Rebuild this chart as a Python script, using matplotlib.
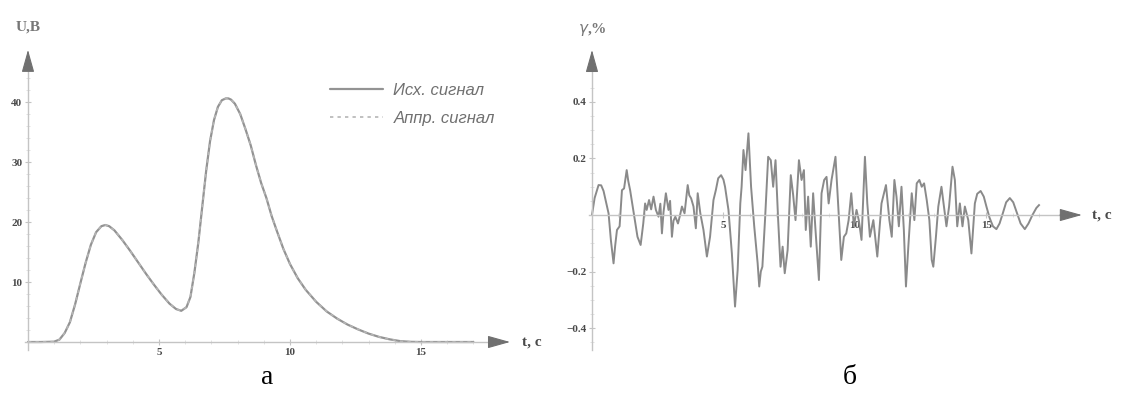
import numpy as np
import matplotlib.pyplot as plt

# ---- data ----
# panel a: source signal U(t), volts
t_sig = [0, 0.5, 1.0, 1.2, 1.4, 1.6, 1.8, 2.0, 2.2, 2.4, 2.6, 2.8, 2.95, 3.1, 3.3,
         3.6, 3.9, 4.2, 4.5, 4.8, 5.1, 5.4, 5.65, 5.85, 6.05, 6.2, 6.35, 6.5, 6.65,
         6.8, 6.95, 7.1, 7.25, 7.4, 7.55, 7.65, 7.75, 7.9, 8.1, 8.3, 8.5, 8.7, 8.9,
         9.1, 9.3, 9.5, 9.75, 10.0, 10.3, 10.6, 11.0, 11.4, 11.8, 12.2, 12.6, 13.0,
         13.4, 13.8, 14.2, 14.6, 15.0, 17.0]
u_src = [0, 0, 0.05, 0.4, 1.5, 3.3, 6.3, 9.8, 13.2, 16.2, 18.3, 19.3, 19.5, 19.3, 18.6,
         17.0, 15.2, 13.3, 11.4, 9.6, 7.9, 6.4, 5.5, 5.2, 5.8, 7.5, 11.5, 16.5, 22.5,
         28.5, 33.5, 37.0, 39.2, 40.3, 40.6, 40.6, 40.4, 39.7, 38.0, 35.5, 32.8, 29.5, 26.5,
         24.0, 21.0, 18.5, 15.5, 13.0, 10.6, 8.7, 6.7, 5.1, 3.9, 2.9, 2.1, 1.4,
         0.85, 0.45, 0.15, 0.03, 0, 0]
u_apr = u_src  # approximation coincides with the source on the plot

# panel б: relative error gamma(t), %
t_err = [0, 0.1, 0.25, 0.35, 0.44, 0.55, 0.63, 0.72, 0.82, 0.88, 0.95, 1.05, 1.14, 1.22,
         1.32, 1.38, 1.45, 1.57, 1.65, 1.73, 1.85, 1.95, 2.02, 2.08, 2.17, 2.25, 2.34,
         2.43, 2.53, 2.6, 2.66, 2.72, 2.81, 2.91, 2.97, 3.04, 3.1, 3.17, 3.27, 3.35,
         3.42, 3.52, 3.64, 3.7, 3.77, 3.86, 3.95, 4.02, 4.12, 4.24, 4.37, 4.49, 4.62,
         4.71, 4.8, 4.91, 5.0, 5.06, 5.19, 5.32, 5.44, 5.54, 5.64, 5.69, 5.76, 5.84,
         5.95, 6.05, 6.17, 6.3, 6.36, 6.42, 6.48, 6.58, 6.7, 6.8, 6.89, 6.98, 7.08,
         7.17, 7.25, 7.33, 7.44, 7.56, 7.65, 7.74, 7.87, 7.97, 8.06, 8.13, 8.22, 8.32,
         8.41, 8.5, 8.63, 8.73, 8.83, 8.92, 9.0, 9.11, 9.26, 9.36, 9.48, 9.58, 9.67,
         9.76, 9.86, 9.96, 10.06, 10.15, 10.25, 10.38, 10.47, 10.57, 10.7, 10.85, 11.01,
         11.18, 11.31, 11.4, 11.5, 11.58, 11.67, 11.77, 11.86, 11.94, 12.03, 12.16,
         12.26, 12.35, 12.45, 12.54, 12.63, 12.73, 12.83, 12.92, 12.98, 13.08, 13.17,
         13.29, 13.4, 13.48, 13.58, 13.71, 13.8, 13.89, 13.99, 14.09, 14.18, 14.31,
         14.43, 14.56, 14.65, 14.78, 14.9, 15.0, 15.12, 15.25, 15.38, 15.5, 15.62,
         15.75, 15.89, 16.02, 16.15, 16.3, 16.46, 16.6, 16.75, 16.9, 17.0]
g_err = [0, 0.06, 0.106, 0.105, 0.085, 0.04, 0.006, -0.09, -0.171, -0.11, -0.053, -0.04,
         0.088, 0.094, 0.159, 0.12, 0.088, 0.018, -0.03, -0.077, -0.106, -0.03, 0.041,
         0.018, 0.053, 0.02, 0.065, 0.018, -0.006, 0.04, -0.065, 0.01, 0.077, 0.018,
         0.05, -0.077, -0.02, -0.006, -0.03, 0.0, 0.03, 0.006, 0.106, 0.07, 0.059, 0.03,
         -0.047, 0.077, 0.006, -0.053, -0.147, -0.077, 0.053, 0.088, 0.13, 0.141, 0.125,
         0.1, 0.018, -0.136, -0.324, -0.194, 0.041, 0.1, 0.23, 0.159, 0.289, 0.1, -0.04,
         -0.171, -0.253, -0.2, -0.183, -0.018, 0.206, 0.194, 0.1, 0.194, -0.018, -0.183,
         -0.112, -0.206, -0.124, 0.141, 0.071, -0.018, 0.194, 0.124, 0.159, -0.053,
         0.065, -0.112, 0.077, -0.053, -0.23, 0.077, 0.124, 0.135, 0.041, 0.124, 0.206,
         0.041, -0.159, -0.077, -0.065, -0.018, 0.077, -0.04, 0.018, -0.02, -0.088,
         0.206, 0.041, -0.077, -0.018, -0.147, 0.041, 0.106, -0.018, -0.077, 0.124,
         0.065, -0.04, 0.1, -0.053, -0.253, -0.112, 0.077, -0.018, 0.112, 0.124, 0.1,
         0.112, 0.053, -0.018, -0.159, -0.183, -0.077, 0.03, 0.1, 0.018, -0.04, 0.03,
         0.171, 0.124, -0.04, 0.041, -0.04, 0.03, -0.018, -0.136, 0.041, 0.075, 0.085,
         0.065, 0.03, -0.01, -0.04, -0.05, -0.03, 0.005, 0.045, 0.06, 0.045, 0.01,
         -0.03, -0.05, -0.03, 0.0, 0.025, 0.035]

# tick labels
a_xticks = [5, 10, 15]
a_yticks = [10, 20, 30, 40]
b_xticks = [5, 10, 15]
b_yticks = [-0.4, -0.2, 0.2, 0.4]
b_ylabels = ['\u22120.4', '\u22120.2', '0.2', '0.4']
legend_labels = ['Исх. сигнал', 'Аппр. сигнал']

# ---- figure ----
W, H = 1123, 395
fig = plt.figure(figsize=(W / 100, H / 100), dpi=100)

AX_COL = '#c4c4c4'
ARR_COL = '#707070'
TXT_COL = '#4a4a4a'
tick_font = dict(family='Liberation Serif', weight='bold', size=8, color=TXT_COL)


def px_axes(x0, x1, y0, y1):
    # axes placed by pixel box (top-left origin)
    return fig.add_axes([x0 / W, 1 - y1 / H, (x1 - x0) / W, (y1 - y0) / H])


def setup_axes(ax, xb, yb):
    for s in ['top', 'right']:
        ax.spines[s].set_visible(False)
    ax.spines['left'].set_position(('data', 0))
    ax.spines['bottom'].set_position(('data', 0))
    ax.spines['left'].set_bounds(*yb)
    ax.spines['bottom'].set_bounds(*xb)
    for s in ['left', 'bottom']:
        ax.spines[s].set_color(AX_COL)
        ax.spines[s].set_linewidth(1.0)
    ax.tick_params(which='major', direction='inout', length=5, width=0.8,
                   color=AX_COL, pad=1.5)
    ax.tick_params(which='minor', direction='inout', length=3, width=0.6,
                   color='#dddddd')
    ax.patch.set_alpha(0)


def arrow(ax, base, tip):
    ax.annotate('', xy=tip, xytext=base,
                arrowprops=dict(arrowstyle='-|>,head_length=1.0,head_width=0.28',
                                mutation_scale=14, fc=ARR_COL, ec=ARR_COL, lw=0.8,
                                shrinkA=0, shrinkB=0),
                annotation_clip=False)


# panel a
ax1 = px_axes(20, 520, 20, 360)
ax1.set_xlim(-0.305, 18.78)
ax1.set_ylim(-3, 53.67)
setup_axes(ax1, (-0.11, 17.6), (-1.3, 45.7))
l1, = ax1.plot(t_sig, u_src, color='#939393', lw=1.6, solid_capstyle='round')
l2, = ax1.plot(t_sig, u_apr, color='#b5b5b5', lw=1.2, ls=(0, (2, 2.5)))
ax1.set_xticks(a_xticks)
ax1.set_xticklabels([str(v) for v in a_xticks], **tick_font)
ax1.set_yticks(a_yticks)
ax1.set_yticklabels([str(v) for v in a_yticks], **tick_font)
ax1.set_xticks(np.arange(1, 18, 1), minor=True)
ax1.set_yticks(np.arange(2, 46, 2), minor=True)
arrow(ax1, (17.6, 0), (18.4, 0))
arrow(ax1, (0, 45.7), (0, 48.7))
ax1.text(18.85, 0, 't, c', ha='left', va='center', family='Liberation Serif',
         weight='bold', size=11, color=TXT_COL)
ax1.text(0, 52.5, 'U,B', ha='center', va='center', family='Liberation Serif',
         weight='bold', size=11, color='#777777')
ax1.legend([l1, l2], legend_labels, loc='upper left',
           bbox_to_anchor=(330 / W, 1 - 83 / H), bbox_transform=fig.transFigure,
           frameon=False, handlelength=3.2, handletextpad=0.6, labelspacing=0.75,
           borderpad=0, borderaxespad=0,
           prop=dict(family='Liberation Sans', style='italic', size=12),
           labelcolor='#707070')

# panel б
ax2 = px_axes(575, 1120, 20, 360)
ax2.set_xlim(-0.646, 20.08)
ax2.set_ylim(-0.513, 0.690)
setup_axes(ax2, (-0.1, 17.8), (-0.478, 0.513))
ax2.plot(t_err, g_err, color='#8a8a8a', lw=1.4)
ax2.set_xticks(b_xticks)
ax2.set_xticklabels([str(v) for v in b_xticks], **tick_font)
ax2.set_yticks(b_yticks)
ax2.set_yticklabels(b_ylabels, **tick_font)
ax2.set_xticks(np.arange(1, 18, 1), minor=True)
ax2.set_yticks(np.arange(-0.45, 0.5, 0.05), minor=True)
arrow(ax2, (17.8, 0), (18.63, 0))
arrow(ax2, (0, 0.513), (0, 0.584))
ax2.text(19.0, 0, 't, c', ha='left', va='center', family='Liberation Serif',
         weight='bold', size=11, color=TXT_COL)
ax2.text(0, 0.655, r'$\gamma$,%', ha='center', va='center', family='Liberation Serif',
         weight='bold', size=11, color='#777777')

# panel captions
fig.text(267 / W, 1 - 378 / H, 'а', ha='center', va='center',
         family='Liberation Serif', size=20, color='black')
fig.text(850 / W, 1 - 378 / H, 'б', ha='center', va='center',
         family='Liberation Serif', size=20, color='black')

fig.savefig('out.png', dpi=100, facecolor='white')
